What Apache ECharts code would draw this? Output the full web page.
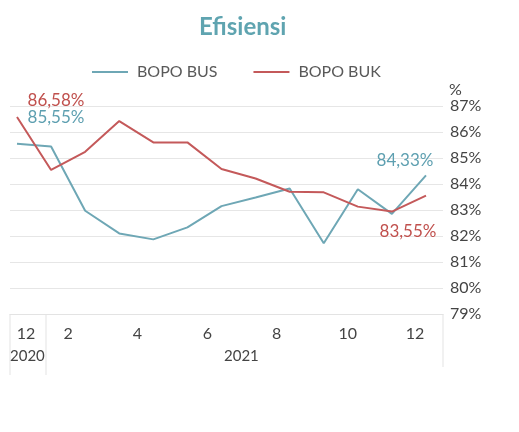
<!DOCTYPE html>
<html>
<head>
<meta charset="utf-8">
<script src="https://cdn.jsdelivr.net/npm/echarts@6/dist/echarts.min.js"></script>
<style>html,body{margin:0;padding:0;background:#fff}#c{width:519px;height:432px}</style>
</head>
<body>
<div id="c"></div>
<script>
var months = ['12','1','2','3','4','5','6','7','8','9','10','11','12'];
var years = ['2020','2021'];
var bopoBUS = [85.55, 85.44, 82.97, 82.10, 81.87, 82.33, 83.15, 83.48, 83.83, 81.72, 83.80, 82.85, 84.33];
var bopoBUK = [86.58, 84.54, 85.24, 86.42, 85.60, 85.60, 84.58, 84.21, 83.70, 83.68, 83.13, 82.94, 83.55];
var yMin = 79, yMax = 87;

var TEAL = '#6ea7b5', RED = '#c4595a';
var FONT = 'Lato';
var fmt = function (v) { return v.toFixed(2).replace('.', ',') + '%'; };

function seriesData(arr, labels) {
  return arr.map(function (v, i) {
    var d = { value: v };
    if (labels[i]) d.label = Object.assign({ show: true, formatter: fmt(v) }, labels[i]);
    return d;
  });
}

var tickStyle = function (pad) {
  return { fontSize: 16, fontFamily: FONT, color: '#444', padding: pad };
};

var chart = echarts.init(document.getElementById('c'));
chart.setOption({
  animation: false,
  textStyle: { fontFamily: FONT },
  title: {
    text: 'Efisiensi', left: 194, top: 10,
    textStyle: { color: '#5fa4b0', fontSize: 24, fontWeight: 'bold', fontFamily: FONT }
  },
  legend: {
    top: 59, left: 87, itemWidth: 36, itemHeight: 2, itemGap: 36,
    icon: 'rect',
    textStyle: { color: '#595959', fontSize: 16, fontFamily: FONT, padding: [0, 0, 0, 4] },
    data: ['BOPO BUS', 'BOPO BUK']
  },
  grid: [
    { left: 10, top: 106, width: 433, height: 208 },
    { left: 17, top: 106, width: 409, height: 208 }
  ],
  xAxis: [
    { gridIndex: 0, type: 'category', data: months, show: true,
      axisLine: { show: true, lineStyle: { color: '#e3e3e3' } }, axisTick: { show: false }, axisLabel: { show: false } },
    { gridIndex: 1, type: 'category', data: months, boundaryGap: false,
      axisLine: { show: false }, axisTick: { show: false },
      axisLabel: {
        interval: 1, margin: 12, color: '#444', fontSize: 16, fontFamily: FONT,
        formatter: function (v, i) { return '{t' + i + '|' + v + '}'; },
        rich: {
          t0: tickStyle([0, 0, 0, 18]),
          t2: tickStyle([0, 34, 0, 0]),
          t4: tickStyle([0, 32, 0, 0]),
          t6: tickStyle([0, 28, 0, 0]),
          t8: tickStyle([0, 26, 0, 0]),
          t10: tickStyle([0, 20, 0, 0]),
          t12: tickStyle([0, 22, 0, 0])
        }
      } }
  ],
  yAxis: [
    { gridIndex: 0, type: 'value', position: 'right', min: yMin, max: yMax, interval: 1,
      axisLine: { show: false }, axisTick: { show: false },
      splitLine: { lineStyle: { color: '#e6e6e6', width: 1 } },
      axisLabel: { margin: 7, color: '#444', fontSize: 16, fontFamily: FONT, formatter: '{value}%' },
      name: '%', nameLocation: 'end', nameGap: 8,
      nameTextStyle: { color: '#444', fontSize: 16, fontFamily: FONT, align: 'left', padding: [0, 0, 0, 6] } },
    { gridIndex: 1, type: 'value', min: yMin, max: yMax, show: false }
  ],
  series: [
    { name: 'BOPO BUS', type: 'line', xAxisIndex: 1, yAxisIndex: 1, symbol: 'circle', symbolSize: 0, showSymbol: true,
      color: TEAL, lineStyle: { color: TEAL, width: 2 },
      label: { show: false, color: '#5d9fb0', fontSize: 17, fontFamily: FONT },
      data: seriesData(bopoBUS, { 0: { position: 'top', offset: [39, -13], color: '#5d9fb0', fontSize: 17 },
                                  12: { position: 'top', offset: [-21, -1], color: '#5d9fb0', fontSize: 17 } }) },
    { name: 'BOPO BUK', type: 'line', xAxisIndex: 1, yAxisIndex: 1, symbol: 'circle', symbolSize: 0, showSymbol: true,
      color: RED, lineStyle: { color: RED, width: 2 },
      label: { show: false, color: '#c0504d', fontSize: 17, fontFamily: FONT },
      data: seriesData(bopoBUK, { 0: { position: 'top', offset: [39, -3], color: '#c0504d', fontSize: 17 },
                                  12: { position: 'bottom', offset: [-18, 22], color: '#c0504d', fontSize: 17 } }) }
  ],
  graphic: [
    { type: 'line', shape: { x1: 10, y1: 314, x2: 10, y2: 375 }, style: { stroke: '#e3e3e3', lineWidth: 1 } },
    { type: 'line', shape: { x1: 46, y1: 314, x2: 46, y2: 375 }, style: { stroke: '#e3e3e3', lineWidth: 1 } },
    { type: 'line', shape: { x1: 443, y1: 314, x2: 443, y2: 367 }, style: { stroke: '#e3e3e3', lineWidth: 1 } },
    { type: 'text', left: 10, top: 349, style: { text: years[0], fill: '#444', font: '15px Lato' } },
    { type: 'text', left: 224, top: 349, style: { text: years[1], fill: '#444', font: '15px Lato' } }
  ]
});
</script>
</body>
</html>
